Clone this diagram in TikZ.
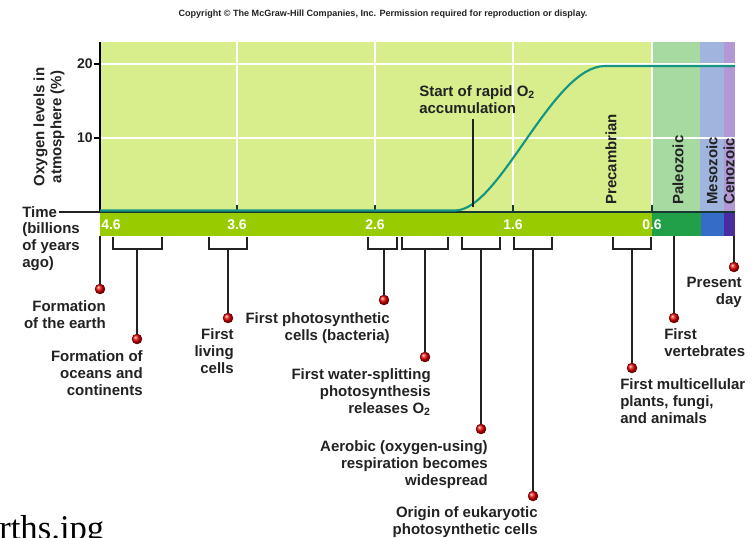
\documentclass[tikz,border=0pt]{standalone}
\usepackage{fontspec}
\setmainfont{Liberation Sans}
\newfontfamily\captionserif{Liberation Serif}
\usepackage{tikz}
\usetikzlibrary{positioning}

\definecolor{precamb}{RGB}{216,238,140}
\definecolor{paleo}{RGB}{166,218,160}
\definecolor{meso}{RGB}{160,180,222}
\definecolor{ceno}{RGB}{178,152,212}
\definecolor{bandlime}{RGB}{153,204,0}
\definecolor{bandgreen}{RGB}{34,160,72}
\definecolor{bandblue}{RGB}{52,108,200}
\definecolor{bandpurple}{RGB}{72,44,160}
\definecolor{oxteal}{RGB}{22,150,128}
\definecolor{axisdark}{RGB}{24,56,52}
\definecolor{inkgray}{RGB}{34,34,34}

\tikzset{
  lbl/.style={inner sep=0pt, text=inkgray, font=\fontsize{11.25}{12.75}\selectfont\bfseries},
  lblr/.style={lbl, align=right, anchor=north east},
  lbll/.style={lbl, align=left, anchor=north west},
  era/.style={lbl, rotate=90, anchor=west},
  yrs/.style={inner sep=0pt, text=white, font=\fontsize{10.5}{12}\selectfont\bfseries},
  gridline/.style={white, line width=1.1pt},
  bracketline/.style={inkgray, line width=1.3pt},
  evdot/.style={circle, inner sep=0pt, minimum size=7.5pt, ball color=red!90!black, draw=red!35!black, line width=0.3pt},
}

\begin{document}
\begin{tikzpicture}[x=0.75pt,y=0.75pt,yscale=-1,xscale=1]
\useasboundingbox (0,0) rectangle (756,537);

% Text Node
\node (copyr) at (383,14) [inner sep=0pt, text=inkgray, font=\fontsize{6.8}{8}\selectfont\bfseries] {Copyright \textcopyright\ The McGraw-Hill Companies, Inc. Permission required for reproduction or display.};

%Shape: Rectangle [eras]
\fill[precamb] (100,42) rectangle (652,212);
\fill[paleo] (652,42) rectangle (700,212);
\fill[meso] (700,42) rectangle (724,212);
\fill[ceno] (724,42) rectangle (735,212);

%Shape: Rectangle [time band]
\fill[bandlime] (100,212) rectangle (652,236);
\fill[bandgreen] (652,212) rectangle (701,236);
\fill[bandblue] (701,212) rectangle (724,236);
\fill[bandpurple] (724,212) rectangle (735,236);

%Straight Lines [grid]
\draw[gridline] (100,64) -- (735,64);
\draw[gridline] (100,138) -- (735,138);
\draw[gridline] (237,42) -- (237,212);
\draw[gridline] (375,42) -- (375,212);
\draw[gridline] (513,42) -- (513,212);
\draw[gridline] (652,42) -- (652,212);

%Straight Lines [axes]
\draw[black, line width=1pt] (100,42) -- (100,212);
\draw[black, line width=1pt] (94,64) -- (100,64);
\draw[black, line width=1pt] (94,138) -- (100,138);
\draw[axisdark, line width=1.6pt] (100,212) -- (735,212);
\draw[axisdark, line width=0.9pt] (237,205) -- (237,212);
\draw[axisdark, line width=0.9pt] (375,205) -- (375,212);
\draw[axisdark, line width=0.9pt] (513,205) -- (513,212);
\draw[axisdark, line width=0.9pt] (652,205) -- (652,212);

%Curve [oxygen level]
\draw[oxteal, line width=1.6pt] (100,210.5) -- (455,210.5) .. controls (500,210.5) and (552,66) .. (605,66) -- (735,66);

% Text Node
\node (t20) at (93,64) [yrs, text=inkgray, anchor=east] {20};
\node (t10) at (93,138) [yrs, text=inkgray, anchor=east] {10};
\node (ylabel) at (49,127) [lbl, rotate=90, align=center] {Oxygen levels in\\atmosphere (\%)};

% Text Node
\node (timetxt) at (22,212) [lbl, anchor=west] {Time};
\coordinate (timeaxis) at (100,212);
\draw[inkgray, line width=1pt, shorten <=1pt] (timetxt.east) -- (timeaxis);
\node (timeunit) at (22,222) [lbll] {(billions\\of years\\ago)};

% Text Node [years]
\node (y46) at (101,225) [yrs, anchor=west] {4.6};
\node (y36) at (237,225) [yrs] {3.6};
\node (y26) at (375,225) [yrs] {2.6};
\node (y16) at (513,225) [yrs] {1.6};
\node (y06) at (652,225) [yrs] {0.6};

% Text Node [eras]
\node (precam) at (611,205) [era] {Precambrian};
\node (paleoz) at (678,205) [era] {Paleozoic};
\node (mesoz) at (712,205) [era] {Mesozoic};
\node (cenoz) at (729,205) [era] {Cenozoic};

% Text Node [rapid accumulation]
\node (rapidtxt) at (419,85) [lbll] {Start of rapid O\textsubscript{2}\\accumulation};
\coordinate (rapidtop) at (473,119);
\coordinate (rapidfoot) at (473,207);
\draw[inkgray, line width=1.3pt] (rapidtop) -- (rapidfoot);

%Brackets
\draw[bracketline] (113,237) |- (162,249) -- (162,237);
\draw[bracketline] (209,237) |- (247,249) -- (247,237);
\draw[bracketline] (368,237) |- (397,249) -- (397,237);
\draw[bracketline] (402,237) |- (448,249) -- (448,237);
\draw[bracketline] (462,237) |- (500,249) -- (500,237);
\draw[bracketline] (514,237) |- (552,249) -- (552,237);
\draw[bracketline] (613,237) |- (651,249) -- (651,237);

%Stems
\coordinate (earthstem) at (100,236);
\coordinate (oceanstem) at (137,249);
\coordinate (livingstem) at (228,249);
\coordinate (photostem) at (384,249);
\coordinate (waterstem) at (425,249);
\coordinate (aerobicstem) at (481,249);
\coordinate (eukarstem) at (533,249);
\coordinate (multistem) at (632,249);
\coordinate (vertstem) at (674,236);
\coordinate (presentstem) at (734,236);

%Shape: Circle [events]
\node[evdot] (earthdot) at (100,289) {};
\node[evdot] (oceandot) at (137,339) {};
\node[evdot] (livingdot) at (228,318) {};
\node[evdot] (photodot) at (384,300) {};
\node[evdot] (waterdot) at (425,357) {};
\node[evdot] (aerobicdot) at (481,429) {};
\node[evdot] (eukardot) at (533,496) {};
\node[evdot] (multidot) at (632,368) {};
\node[evdot] (vertdot) at (674,318) {};
\node[evdot] (presentdot) at (734,267) {};

%Straight Lines [events]
\draw[bracketline] (earthstem) -- (earthdot);
\draw[bracketline] (oceanstem) -- (oceandot);
\draw[bracketline] (livingstem) -- (livingdot);
\draw[bracketline] (photostem) -- (photodot);
\draw[bracketline] (waterstem) -- (waterdot);
\draw[bracketline] (aerobicstem) -- (aerobicdot);
\draw[bracketline] (eukarstem) -- (eukardot);
\draw[bracketline] (multistem) -- (multidot);
\draw[bracketline] (vertstem) -- (vertdot);
\draw[bracketline] (presentstem) -- (presentdot);

% Text Node [events]
\node (earthlbl) at (106,300) [lblr] {Formation\\of the earth};
\node (oceanlbl) at (143,350) [lblr] {Formation of\\oceans and\\continents};
\node (livinglbl) at (234,328) [lblr] {First\\living\\cells};
\node (photolbl) at (390,312) [lblr] {First photosynthetic\\cells (bacteria)};
\node (waterlbl) at (431,368) [lblr] {First water-splitting\\photosynthesis\\releases O\textsubscript{2}};
\node (aerobiclbl) at (488,440) [lblr] {Aerobic (oxygen-using)\\respiration becomes\\widespread};
\node (eukarlbl) at (538,506) [lblr] {Origin of eukaryotic\\photosynthetic cells};
\node (multilbl) at (620,378) [lbll] {First multicellular\\plants, fungi,\\and animals};
\node (vertlbl) at (664,328) [lbll] {First\\vertebrates};
\node (presentlbl) at (742,277) [lblr] {Present\\day};

% Text Node [file name]
\node (fname) at (-1,539) [inner sep=0pt, anchor=base west, font=\captionserif\fontsize{26}{30}\selectfont] {rths.jpg};

\end{tikzpicture}
\end{document}
